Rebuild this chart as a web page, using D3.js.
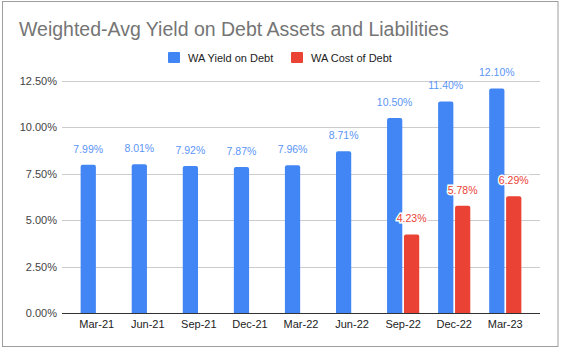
<!DOCTYPE html>
<html>
<head>
<meta charset="utf-8">
<script src="https://cdn.jsdelivr.net/npm/d3@7"></script>
<style>
  body { margin: 0; background: #fff; }
  svg text { font-family: "Liberation Sans", Arial, sans-serif; }
</style>
</head>
<body>
<script>
'use strict';

// 数据
const quarters = ['Mar-21', 'Jun-21', 'Sep-21', 'Dec-21', 'Mar-22', 'Jun-22', 'Sep-22', 'Dec-22', 'Mar-23'];
const yieldOnDebt = [7.99, 8.01, 7.92, 7.87, 7.96, 8.71, 10.50, 11.40, 12.10];
const costOfDebt = [null, null, null, null, null, null, 4.23, 5.78, 6.29];
const seriesNames = ['WA Yield on Debt', 'WA Cost of Debt'];
const seriesColors = ['#4285f4', '#ea4335'];
const labelColors = ['#5b95f5', '#ea4335'];
const yTicks = [0, 2.5, 5, 7.5, 10, 12.5];

const width = 562, height = 352;
const margin = {top: 81, right: 22, bottom: 39, left: 62};

const svg = d3.select('body').append('svg')
  .attr('width', width)
  .attr('height', height);

// 外框
svg.append('rect')
  .attr('x', 2.5).attr('y', 1.5)
  .attr('width', 555.5).attr('height', 345)
  .attr('fill', '#fff')
  .attr('stroke', '#9e9e9e');

// 标题
svg.append('text')
  .attr('x', 19).attr('y', 36)
  .attr('font-size', '19.5px')
  .attr('fill', '#757575')
  .text('Weighted-Avg Yield on Debt Assets and Liabilities');

// 比例尺
const x0 = d3.scaleBand()
  .domain(quarters)
  .range([margin.left, width - margin.right])
  .paddingInner(0.37)
  .paddingOuter(0.365);

const x1 = d3.scaleBand()
  .domain([0, 1])
  .range([0, x0.bandwidth()])
  .paddingInner(0.1);

const y = d3.scaleLinear()
  .domain([0, 12.5])
  .range([height - margin.bottom, margin.top]);

// 网格线
svg.append('g')
  .selectAll('line')
  .data(yTicks.slice(1))
  .enter()
  .append('line')
  .attr('x1', margin.left).attr('x2', width - margin.right)
  .attr('y1', d => Math.round(y(d)) + 0.5)
  .attr('y2', d => Math.round(y(d)) + 0.5)
  .attr('stroke', '#cccccc');

// y 轴
const yAxis = d3.axisLeft(y)
  .tickValues(yTicks)
  .tickSize(0)
  .tickPadding(5)
  .tickFormat(d => d.toFixed(2) + '%');

svg.append('g')
  .attr('transform', `translate(${margin.left},0)`)
  .call(yAxis)
  .call(g => g.select('.domain').remove())
  .selectAll('text')
  .attr('font-size', '11px')
  .attr('fill', '#444');

// 柱子
const series = [yieldOnDebt, costOfDebt];
const barRadius = 2;

function topRoundedBar(x, yTop, w, h, r) {
  return `M${x},${yTop + h}V${yTop + r}Q${x},${yTop} ${x + r},${yTop}` +
    `H${x + w - r}Q${x + w},${yTop} ${x + w},${yTop + r}V${yTop + h}Z`;
}

series.forEach((values, si) => {
  const g = svg.append('g');
  const pts = values.map((v, i) => ({q: quarters[i], v: v})).filter(d => d.v !== null);

  g.selectAll('path')
    .data(pts)
    .enter()
    .append('path')
    .attr('d', d => {
      const bx = x0(d.q) + x1(si);
      const by = y(d.v);
      return topRoundedBar(bx, by, x1.bandwidth(), y(0) - by, barRadius);
    })
    .attr('fill', seriesColors[si]);

  // 数据标签
  g.selectAll('text')
    .data(pts)
    .enter()
    .append('text')
    .attr('x', d => x0(d.q) + x1(si) + x1.bandwidth() / 2)
    .attr('y', d => y(d.v) - 12)
    .attr('text-anchor', 'middle')
    .attr('font-size', '10.5px')
    .attr('fill', labelColors[si])
    .attr('stroke', si === 1 ? '#fff' : 'none')
    .attr('stroke-width', si === 1 ? 3 : 0)
    .attr('paint-order', 'stroke')
    .text(d => d.v.toFixed(2) + '%');
});

// x 轴基线
svg.append('line')
  .attr('x1', margin.left).attr('x2', width - margin.right)
  .attr('y1', y(0) + 0.5).attr('y2', y(0) + 0.5)
  .attr('stroke', '#333');

// x 轴标签
svg.append('g')
  .selectAll('text')
  .data(quarters)
  .enter()
  .append('text')
  .attr('x', d => x0(d) + x0.bandwidth() / 2)
  .attr('y', y(0) + 15)
  .attr('text-anchor', 'middle')
  .attr('font-size', '11px')
  .attr('fill', '#222')
  .text(d => d);

// 图例
const legendX = [168, 291];
const legend = svg.append('g')
  .selectAll('g')
  .data(seriesNames)
  .enter()
  .append('g')
  .attr('transform', (d, i) => `translate(${legendX[i]},52)`);

legend.append('rect')
  .attr('width', 12).attr('height', 11)
  .attr('rx', 1)
  .attr('fill', (d, i) => seriesColors[i]);

legend.append('text')
  .attr('x', 20).attr('y', 9.5)
  .attr('font-size', '11px')
  .attr('fill', '#222')
  .text(d => d);
</script>
</body>
</html>
